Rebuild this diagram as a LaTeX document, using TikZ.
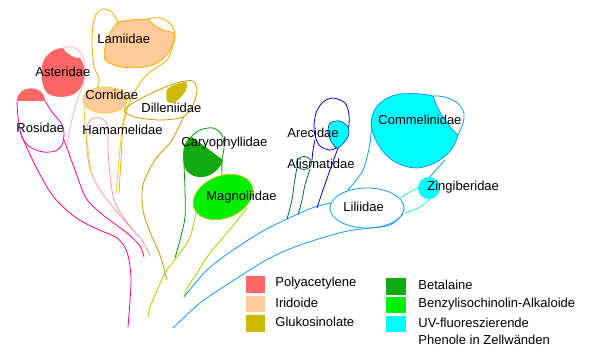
\documentclass[tikz,border=0pt]{standalone}
\usepackage{fontspec}
\setmainfont{Liberation Sans}
\usetikzlibrary{calc}
\definecolor{rosidcol}{HTML}{FF0099}
\definecolor{astercol}{HTML}{FFAAEE}
\definecolor{hamacol}{HTML}{FF9999}
\definecolor{polycol}{HTML}{FF6666}
\definecolor{iridcol}{HTML}{FFCC99}
\definecolor{cornline}{HTML}{FFCC22}
\definecolor{lamicol}{HTML}{FFAA00}
\definecolor{dillcol}{HTML}{CC9900}
\definecolor{glukcol}{HTML}{CCBB00}
\definecolor{carycol}{HTML}{009900}
\definecolor{betacol}{HTML}{11AA11}
\definecolor{magnline}{HTML}{AACC00}
\definecolor{benzcol}{HTML}{00EE00}
\definecolor{arecol}{HTML}{0000CC}
\definecolor{alismcol}{HTML}{006666}
\definecolor{lilicol}{HTML}{1199FF}
\definecolor{uvcol}{HTML}{00FFFF}
\definecolor{zingcol}{HTML}{22FFAA}

\begin{document}
\begin{tikzpicture}[x=1pt,y=-1pt,line width=0.8pt,
		taxon/.style={inner sep=0pt,anchor=west,font=\fontsize{13}{15}\selectfont},
		legtext/.style={inner sep=0pt,anchor=west,align=left,font=\fontsize{13}{17}\selectfont}]
			%%%%% START %%%%%
			\useasboundingbox (0,0) rectangle (596,361);
			
			% Rosidae
			\fill[polycol] (17,101) .. controls (17,84) and (45,84) .. (45,101) -- cycle;
			\draw[rosidcol] plot[smooth] coordinates {(17,101) (18,117) (22,137) (30,147) (43,152) (55,151) (62,145) (64,133) (61,123) (52,112) (45,101)};
			\draw[rosidcol] plot[smooth] coordinates {(20,132) (35,165) (53,196) (75,217) (97,229) (117,238) (127,252) (131,280) (128,327)};
			\draw[rosidcol] plot[smooth] coordinates {(64,140) (75,170) (86,198) (103,215) (127,233) (140,246) (144,257)};
			
			% Asteridae
			\fill[polycol] (63,48) .. controls (67,55) and (74,58) .. (80,58)
				.. controls (86,66) and (87,82) .. (78,91)
				.. controls (72,98) and (55,99) .. (47,93)
				.. controls (40,85) and (40,65) .. (45,58)
				.. controls (50,51) and (57,48) .. (63,48) -- cycle;
			\draw[astercol] (63,48) .. controls (72,44) and (82,50) .. (84,60)
				.. controls (86,70) and (85,85) .. (79,95)
				.. controls (74,110) and (69,130) .. (67,146);
			
			% Hamamelidae
			\draw[hamacol] plot[smooth] coordinates {(150,255) (142,240) (130,227) (113,207) (100,190) (91,172) (87,150) (87,127) (92,119) (100,118) (106,122) (108,131) (108,150) (110,175) (114,200) (124,218) (138,236)};
			
			% Lamiidae, Cornidae
			\fill[iridcol,draw=lamicol] (118,22) .. controls (128,20) and (140,19) .. (148,19)
				.. controls (156,29) and (166,31) .. (175,33)
				.. controls (176,45) and (165,62) .. (150,66)
				.. controls (135,69) and (115,69) .. (105,60)
				.. controls (102,50) and (108,32) .. (118,22) -- cycle;
			\draw[lamicol] (148,19) .. controls (160,15) and (172,20) .. (175,33);
			\draw[lamicol] plot[smooth] coordinates {(97,88) (99,79) (94,66) (92,45) (93,25) (97,13) (104,9) (112,12) (118,22)};
			\draw[lamicol] plot[smooth] coordinates {(175,35) (173,45) (167,60) (150,72) (140,83) (132,97) (127,110) (123,127) (121,160) (119,193)};
			\draw[cornline] plot[smooth] coordinates {(84,106) (85,125) (88,150) (91,172)};
			\draw[cornline] plot[smooth] coordinates {(126,106) (122,130) (119,160) (116,193)};
			\fill[iridcol,draw=cornline] (105,100) ellipse (22 and 13);
			
			% Dilleniidae
			\draw[dillcol] plot[smooth cycle] coordinates {(124,110) (140,99) (163,88) (180,82) (193,81) (197,90) (193,105) (183,117) (160,120) (135,117)};
			\draw[dillcol] plot[smooth] coordinates {(184,116) (172,140) (155,160) (143,185) (143,210) (150,232) (160,255) (167,280)};
			\fill[glukcol] plot[smooth cycle] coordinates {(167,101) (167,90) (174,85) (186,82) (186,90) (180,98) (173,103)};
			
			% Caryophyllidae
			\draw[carycol] plot[smooth] coordinates {(175,258) (180,240) (185,217) (185,190) (184,150) (190,138) (200,130) (213,128) (222,135) (224,148) (222,160) (222,178)};
			\fill[betacol] (192,137) -- (223,160) .. controls (218,176) and (197,184) .. (186,170) .. controls (181,160) and (182,143) .. (192,137) -- cycle;
			
			% Magnoliidae
			\draw[magnline] plot[smooth] coordinates {(197,208) (190,237) (177,257) (165,273) (155,295) (150,307) (148,317)};
			\draw[magnline] plot[smooth] coordinates {(247,208) (227,233) (210,253) (197,273) (188,287) (184,297)};
			\fill[benzcol,draw=magnline,rotate around={22:(223,197)}] (223,197) ellipse (31 and 21);
			
			% Liliidae and its branches
			\draw[lilicol] plot[smooth] coordinates {(184,297) (207,270) (233,250) (263,231) (287,219) (312,208) (331,203)};
			\draw[lilicol] plot[smooth] coordinates {(173,328) (200,303) (228,284) (268,259) (300,245) (343,232) (370,228) (390,225) (403,214)};
			\draw[lilicol] (367,208) ellipse (37 and 20);
			\draw[lilicol] plot[smooth] coordinates {(372,118) (370,143) (363,170) (348,190)};
			\draw[lilicol] plot[smooth] coordinates {(445,160) (436,170) (427,180)};
			
			% Arecidae, Alismatidae
			\draw[arecol] plot[smooth cycle] coordinates {(333,98) (345,103) (349,115) (348,130) (340,145) (330,150) (319,145) (314,130) (316,113) (323,102)};
			\draw[arecol] plot[smooth] coordinates {(315,140) (313,150) (312,160)};
			\draw[arecol] plot[smooth] coordinates {(338,148) (330,170) (323,190) (317,208)};
			\fill[uvcol,draw=arecol,line width=0.5pt] plot[smooth cycle] coordinates {(330,123) (340,121) (348,127) (348,137) (338,148) (332,143) (328,133)};
			\draw[alismcol] (304,163) ellipse (7.5 and 6.5);
			\draw[alismcol] plot[smooth] coordinates {(297,167) (294,185) (292,200) (287,219)};
			\draw[alismcol] plot[smooth] coordinates {(310,169) (305,185) (302,200) (298,215)};
			
			% Commelinidae, Zingiberidae
			\fill[uvcol,draw=lilicol] (433,96) .. controls (438,112) and (448,126) .. (458,135)
				.. controls (455,150) and (440,165) .. (418,168)
				.. controls (395,168) and (378,152) .. (372,130)
				.. controls (368,112) and (380,97) .. (400,94)
				.. controls (415,93) and (425,94) .. (433,96) -- cycle;
			\draw[lilicol] (433,96) .. controls (450,95) and (466,105) .. (464,118) .. controls (463,126) and (460,131) .. (458,135);
			\draw[zingcol] plot[smooth] coordinates {(400,198) (410,192) (419,187)};
			\draw[zingcol] plot[smooth] coordinates {(405,213) (420,207) (430,199)};
			\fill[uvcol] (429,188) circle (11);
			
			% labels
			\node[taxon] (lami) at (97,39) {Lamiidae};
			\node[taxon] (aster) at (35,72) {Asteridae};
			\node[taxon] (corni) at (85,95) {Cornidae};
			\node[taxon] (dille) at (141,108) {Dilleniidae};
			\node[taxon] (rosi) at (16,128) {Rosidae};
			\node[taxon] (hama) at (82,130) {Hamamelidae};
			\node[taxon] (caryo) at (181,143) {Caryophyllidae};
			\node[taxon] (magno) at (206,197) {Magnoliidae};
			\node[taxon] (areci) at (287,133) {Arecidae};
			\node[taxon] (alism) at (287,164) {Alismatidae};
			\node[taxon] (comme) at (378,120) {Commelinidae};
			\node[taxon] (lili) at (343,207) {Liliidae};
			\node[taxon] (zingi) at (427,187) {Zingiberidae};
			
			% legend
			\fill[polycol] (246,276) rectangle (265,293);
			\fill[iridcol] (246,296) rectangle (265,312);
			\fill[glukcol] (246,315) rectangle (265,332);
			\fill[betacol] (386,278) rectangle (406,295);
			\fill[benzcol] (386,297) rectangle (406,313);
			\fill[uvcol] (386,316) rectangle (406,332);
			\node[legtext] (poly) at (275,283) {Polyacetylene};
			\node[legtext] (irid) at (275,303) {Iridoide};
			\node[legtext] (gluk) at (275,322) {Glukosinolate};
			\node[legtext] (beta) at (418,285) {Betalaine};
			\node[legtext] (benz) at (418,304) {Benzylisochinolin-Alkaloide};
			\node[legtext] (uvph) at (418,331.5) {UV-fluoreszierende\\Phenole in Zellwänden};
			%%%%% END %%%%%
		\end{tikzpicture}
\end{document}
